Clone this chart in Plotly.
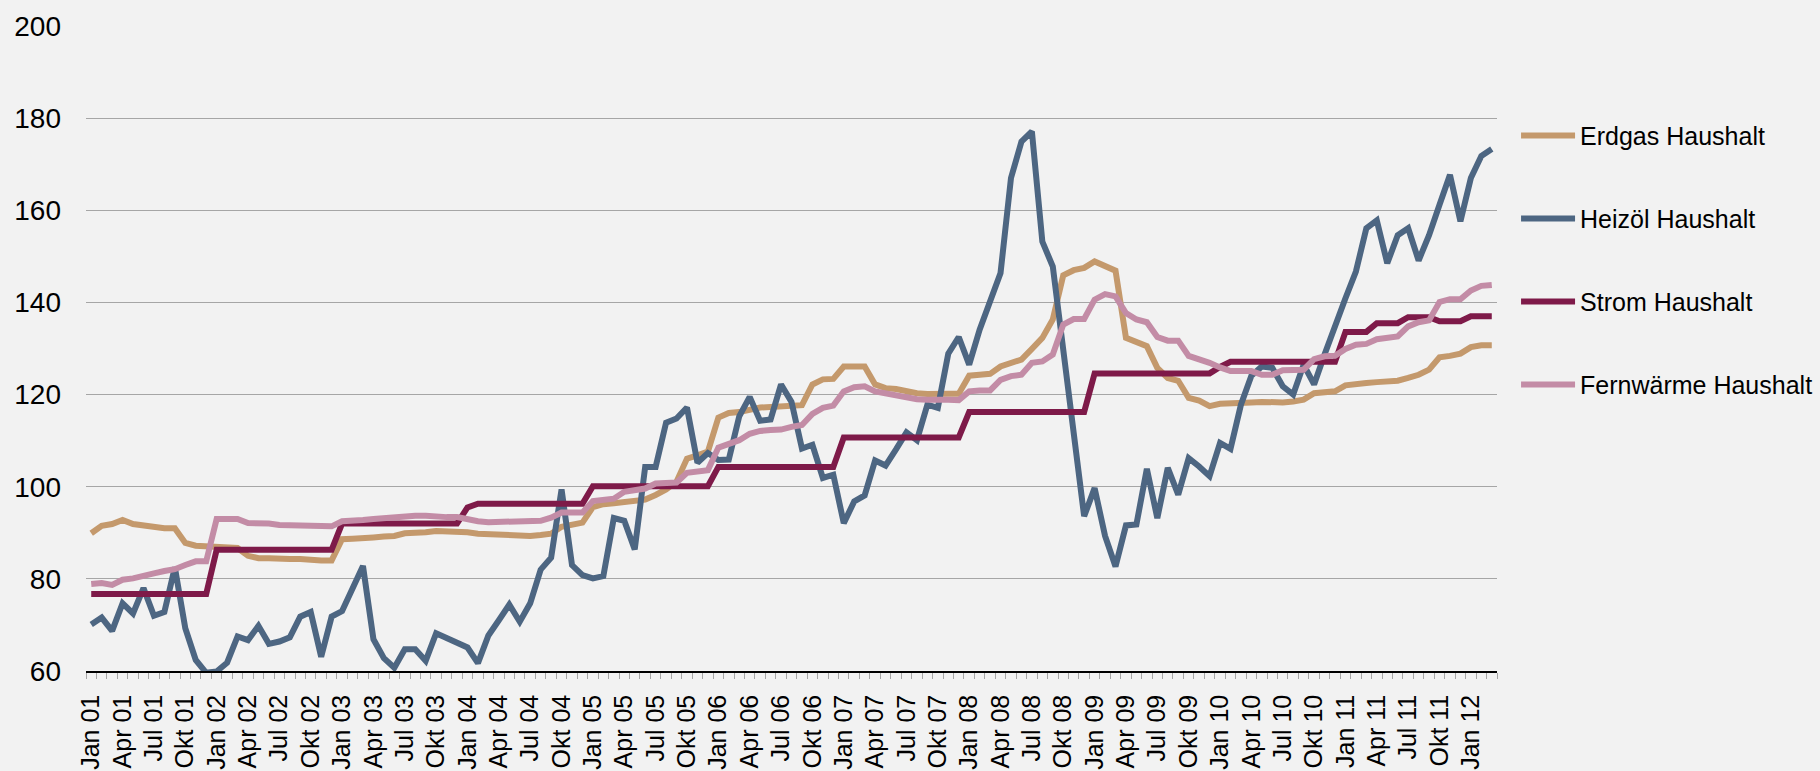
import plotly.graph_objects as go

# ---- category / tick labels ----
month_names = ["Jan", "Feb", "Mär", "Apr", "Mai", "Jun", "Jul", "Aug", "Sep", "Okt", "Nov", "Dez"]
year_labels = ["01", "02", "03", "04", "05", "06", "07", "08", "09", "10", "11", "12"]
labelled_months = ["Jan", "Apr", "Jul", "Okt"]
n_months = 135  # Jan 01 .. Mär 12
categories = [f"{m} {y}" for y in year_labels for m in month_names][:n_months]
tick_text = [c if c.split(" ")[0] in labelled_months else "" for c in categories]

# ---- series values (index) ----
erdgas = [
    89.9, 91.5, 91.9, 92.8, 91.9, 91.6, 91.2, 91.0, 91.0, 87.8, 87.2, 87.0,
    87.0, 86.9, 86.7, 85.0, 84.5, 84.5, 84.3, 84.3, 84.3, 84.0, 84.0, 84.0,
    88.6, 88.7, 88.7, 89.0, 89.2, 89.3, 89.9, 89.9, 90.1, 90.4, 90.4, 90.4,
    90.1, 89.8, 89.7, 89.6, 89.5, 89.3, 89.3, 89.5, 89.8, 91.3, 91.7, 92.2,
    95.6, 96.2, 96.4, 96.7, 96.9, 97.2, 98.2, 99.4, 101.1, 106.1, 106.8, 107.6,
    115.0, 116.0, 116.2, 116.8, 117.2, 117.3, 117.5, 117.5, 117.7, 122.2, 123.3, 123.4,
    126.1, 126.1, 126.1, 122.2, 121.4, 121.2, 120.7, 120.3, 120.1, 120.3, 120.2, 120.2,
    124.1, 124.3, 124.5, 126.1, 126.9, 127.6, 129.9, 132.3, 136.3, 145.9, 147.0, 147.5,
    148.9, 148.0, 146.9, 132.3, 131.3, 130.5, 125.8, 123.6, 123.0, 119.3, 118.7, 117.5,
    118.0, 118.2, 118.2, 118.3, 118.4, 118.3, 118.3, 118.5, 118.9, 120.3, 120.5, 120.7,
    122.0, 122.4, 122.5, 122.7, 122.9, 123.0, 123.6, 124.3, 125.4, 128.1, 128.4, 128.9,
    130.3, 130.7, 130.7,
]
heizoel = [
    70.1, 71.6, 68.7, 74.7, 72.5, 78.0, 72.0, 72.8, 82.5, 69.3, 62.4, 59.6,
    59.9, 61.8, 67.5, 66.7, 69.8, 65.9, 66.4, 67.3, 71.8, 72.8, 63.1, 71.8,
    73.0, 78.0, 82.8, 66.9, 62.8, 60.7, 64.7, 64.7, 62.2, 68.2, 67.1, 65.9,
    65.1, 61.7, 67.7, 71.0, 74.4, 70.7, 74.7, 82.0, 84.6, 99.4, 83.0, 80.8,
    80.1, 80.6, 93.2, 92.6, 86.4, 104.3, 104.3, 113.9, 114.8, 117.2, 105.2, 107.3,
    105.8, 105.9, 115.3, 119.5, 114.3, 114.6, 122.2, 118.4, 108.3, 109.1, 101.9, 102.6,
    92.1, 96.8, 98.1, 105.7, 104.6, 108.1, 111.8, 110.1, 117.8, 117.1, 128.9, 132.5,
    126.5, 134.1, 140.2, 146.4, 167.0, 174.9, 177.1, 153.2, 147.8, 130.1, 112.4, 93.6,
    99.7, 89.3, 82.7, 91.6, 91.8, 103.9, 93.2, 104.1, 98.3, 106.2, 104.4, 102.3,
    109.5, 108.2, 117.8, 124.1, 126.1, 125.8, 121.8, 120.0, 126.5, 122.2, 128.7, 134.4,
    140.9, 146.7, 156.1, 157.8, 148.5, 154.6, 156.1, 149.1, 154.6, 161.2, 167.7, 157.6,
    167.0, 171.8, 173.3,
]
strom = [
    76.7, 76.7, 76.7, 76.7, 76.7, 76.7, 76.7, 76.7, 76.7, 76.7, 76.7, 76.7,
    86.3, 86.3, 86.3, 86.3, 86.3, 86.3, 86.3, 86.3, 86.3, 86.3, 86.3, 86.3,
    92.0, 92.0, 92.0, 92.0, 92.0, 92.0, 92.0, 92.0, 92.0, 92.0, 92.0, 92.0,
    95.5, 96.3, 96.3, 96.3, 96.3, 96.3, 96.3, 96.3, 96.3, 96.3, 96.3, 96.3,
    100.1, 100.1, 100.1, 100.1, 100.1, 100.1, 100.1, 100.1, 100.1, 100.1, 100.1, 100.1,
    104.3, 104.3, 104.3, 104.3, 104.3, 104.3, 104.3, 104.3, 104.3, 104.3, 104.3, 104.3,
    110.7, 110.7, 110.7, 110.7, 110.7, 110.7, 110.7, 110.7, 110.7, 110.7, 110.7, 110.7,
    116.2, 116.2, 116.2, 116.2, 116.2, 116.2, 116.2, 116.2, 116.2, 116.2, 116.2, 116.2,
    124.6, 124.6, 124.6, 124.6, 124.6, 124.6, 124.6, 124.6, 124.6, 124.6, 124.6, 124.6,
    126.0, 127.1, 127.1, 127.1, 127.1, 127.1, 127.1, 127.1, 127.1, 127.1, 127.1, 127.1,
    133.6, 133.6, 133.6, 135.5, 135.5, 135.5, 136.8, 136.8, 136.8, 135.9, 135.9, 135.9,
    137.0, 137.0, 137.0,
]
fernwaerme = [
    78.9, 79.1, 78.7, 79.8, 80.1, 80.5, 81.2, 81.7, 82.1, 83.0, 83.8, 83.8,
    93.0, 93.0, 93.0, 92.1, 92.1, 92.0, 91.7, 91.6, 91.6, 91.6, 91.2, 91.4,
    92.5, 92.8, 92.8, 93.0, 93.2, 93.3, 93.7, 93.7, 93.7, 93.4, 93.4, 93.4,
    92.8, 92.5, 92.3, 92.4, 92.5, 92.3, 92.5, 92.6, 93.3, 94.4, 94.4, 94.4,
    96.9, 97.2, 97.4, 98.9, 99.4, 99.6, 100.7, 100.9, 100.9, 103.0, 103.4, 103.6,
    108.5, 109.4, 110.1, 111.5, 112.1, 112.3, 112.4, 113.0, 113.4, 115.8, 117.1, 117.6,
    120.7, 121.6, 121.8, 120.7, 120.3, 120.0, 119.3, 119.0, 118.9, 119.0, 118.9, 118.8,
    120.7, 120.9, 120.9, 123.2, 124.0, 124.3, 126.9, 127.2, 128.7, 135.2, 136.4, 136.4,
    140.6, 141.8, 141.3, 137.7, 136.3, 135.7, 132.5, 131.7, 131.7, 128.4, 127.7, 126.9,
    125.9, 125.1, 125.1, 125.1, 124.3, 124.3, 125.3, 125.3, 125.4, 127.7, 128.3, 128.4,
    129.9, 130.8, 131.0, 132.0, 132.3, 132.6, 134.8, 135.7, 136.1, 140.1, 140.7, 140.7,
    142.6, 143.6, 143.8,
]

series_names = ["Erdgas Haushalt", "Heizöl Haushalt", "Strom Haushalt", "Fernwärme Haushalt"]
series_values = [erdgas, heizoel, strom, fernwaerme]
series_colors = ["#C4996C", "#4D6682", "#7E1A49", "#C38CA6"]

y_tickvals = [60, 80, 100, 120, 140, 160, 180, 200]

FONT = "Liberation Sans, Arial, Helvetica, sans-serif"
BG = "#F2F2F2"

fig = go.Figure()
for name, vals, col in zip(series_names, series_values, series_colors):
    fig.add_trace(go.Scatter(
        x=categories, y=vals, name=name, mode="lines",
        line=dict(color=col, width=6),
        legendgroup=name,
    ))

fig.update_layout(
    width=1820, height=771,
    paper_bgcolor=BG, plot_bgcolor=BG,
    font=dict(family=FONT, size=25, color="#000000"),
    margin=dict(l=86.3, r=322.7, t=25.5, b=100, autoexpand=False),
    showlegend=True,
    legend=dict(
        x=1.0135, xanchor="left", y=0.8655, yanchor="top",
        bgcolor="rgba(0,0,0,0)", borderwidth=0,
        font=dict(family=FONT, size=25, color="#000000"),
        tracegroupgap=47.5, itemwidth=54,
    ),
)
fig.update_xaxes(
    type="category",
    range=[-0.5, n_months - 0.5],
    tickmode="array", tickvals=categories, ticktext=tick_text,
    tickson="boundaries", ticks="outside", ticklen=6, tickwidth=1, tickcolor="#A6A6A6",
    tickangle=-90, ticklabelstandoff=12,
    tickfont=dict(family=FONT, size=25, color="#000000"),
    showgrid=False, zeroline=False,
    showline=True, linecolor="#000000", linewidth=1.5,
    automargin=False,
)
fig.update_yaxes(
    range=[60, 200], tickmode="array", tickvals=y_tickvals,
    showgrid=True, gridcolor="#A6A6A6", gridwidth=1,
    zeroline=False, showline=False, ticks="",
    ticklabelstandoff=24,
    tickfont=dict(family=FONT, size=28, color="#000000"),
    automargin=False,
)

fig.write_html(
    "out.html",
    config={"displayModeBar": False},
    post_script="document.body.style.margin='0';document.body.style.overflow='hidden';",
)
